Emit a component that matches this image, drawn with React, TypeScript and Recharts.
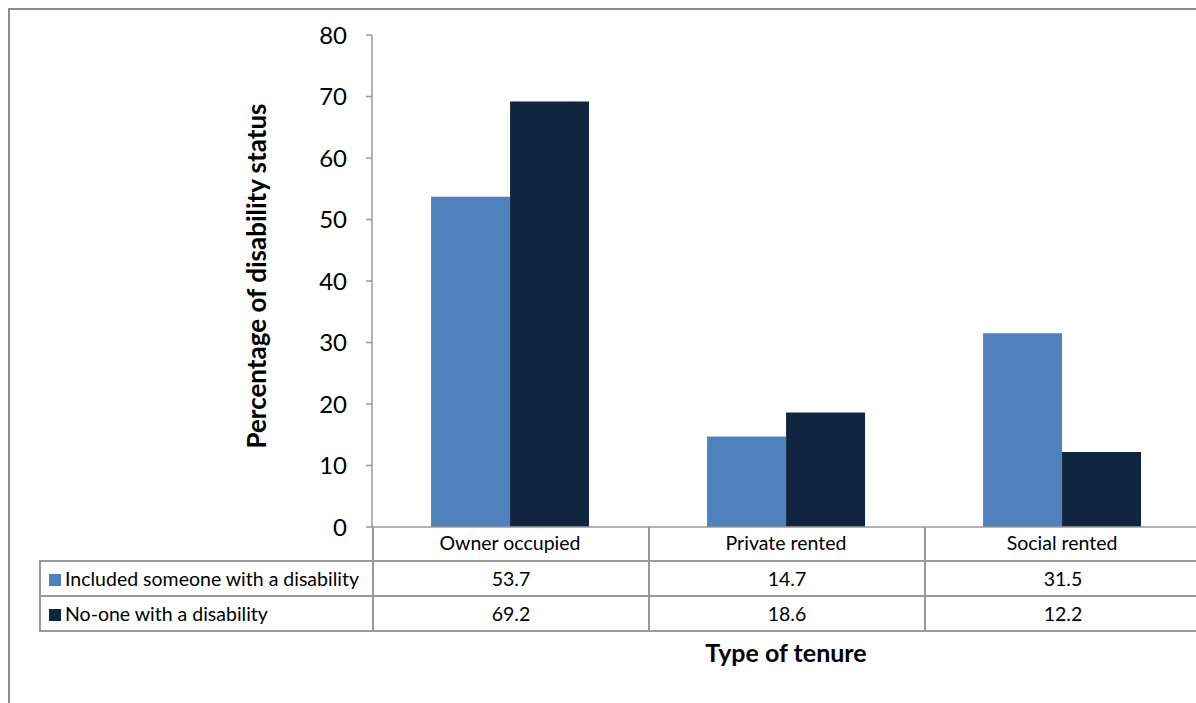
import React from 'react';
import { BarChart, Bar, XAxis, YAxis, Label } from 'recharts';

const tenures = ['Owner occupied', 'Private rented', 'Social rented'];
const withDisability = [53.7, 14.7, 31.5];
const noDisability = [69.2, 18.6, 12.2];
const yTicks = [0, 10, 20, 30, 40, 50, 60, 70, 80];

const seriesNames = ['Included someone with a disability', 'No-one with a disability'];
const seriesColors = ['#4F81BD', '#10253F'];

const data = tenures.map((t, i) => ({
  name: t,
  withDisability: withDisability[i],
  noDisability: noDisability[i],
}));

const font = 'Lato, "Open Sans", sans-serif';
const lineColor = '#999999';
const textSize = 19.5;

const YTitle = (props: any) => {
  const vb = props.viewBox;
  const x = vb.x - 56;
  const y = vb.y + vb.height / 2 - 5;
  return (
    <text
      x={x}
      y={y}
      transform={`rotate(-90, ${x}, ${y})`}
      textAnchor="middle"
      dominantBaseline="central"
      fontFamily={font}
      fontWeight="bold"
      fontSize={26}
      fill="#000"
    >
      Percentage of disability status
    </text>
  );
};

const cell = (extra: React.CSSProperties): React.CSSProperties => ({
  padding: 0,
  textAlign: 'center',
  fontSize: textSize,
  fontFamily: font,
  color: '#000',
  borderLeft: `2px solid ${lineColor}`,
  borderRight: `2px solid ${lineColor}`,
  borderTop: `2px solid ${lineColor}`,
  borderBottom: `2px solid ${lineColor}`,
  ...extra,
});

const App: React.FC = () => {
  const rows = [withDisability, noDisability];
  return (
    <div style={{ position: 'fixed', left: 0, top: 0, width: 1196, height: 703, overflow: 'hidden', background: '#fff' }}>
      <div
        style={{
          position: 'absolute',
          left: 8,
          top: 8,
          width: 1400,
          height: 900,
          border: '2px solid #8c8c8c',
        }}
      />
      <div style={{ position: 'absolute', left: 0, top: 0 }}>
        <BarChart
          width={1220}
          height={703}
          data={data}
          margin={{ top: 35, right: 20, bottom: 0, left: 312 }}
          barCategoryGap="21.4%"
          barGap={0}
        >
          <XAxis
            dataKey="name"
            height={176}
            tickLine={false}
            tickSize={0}
            tickMargin={9}
            stroke={lineColor}
            strokeWidth={1.5}
            tick={{ fill: '#000', fontSize: textSize, fontFamily: font }}
          />
          <YAxis
            width={60}
            domain={[0, 80]}
            ticks={yTicks}
            interval={0}
            tickSize={6}
            tickMargin={19}
            stroke={lineColor}
            strokeWidth={1.5}
            tick={{ fill: '#000', fontSize: 24, fontFamily: font }}
          >
            <Label content={<YTitle />} />
          </YAxis>
          <Bar dataKey="withDisability" name={seriesNames[0]} fill={seriesColors[0]} isAnimationActive={false} />
          <Bar dataKey="noDisability" name={seriesNames[1]} fill={seriesColors[1]} isAnimationActive={false} />
        </BarChart>
      </div>
      <table
        style={{
          position: 'absolute',
          left: 39,
          top: 527,
          borderCollapse: 'collapse',
          tableLayout: 'fixed',
          width: 333 + 276 * 3,
        }}
      >
        <colgroup>
          <col style={{ width: 333 }} />
          <col style={{ width: 276 }} />
          <col style={{ width: 276 }} />
          <col style={{ width: 276 }} />
        </colgroup>
        <tbody>
          <tr style={{ height: 34 }}>
            <td style={{ padding: 0, border: 'none', borderBottom: `2px solid ${lineColor}` }} />
            {tenures.map((t) => (
              <td key={t} style={cell({ borderTop: 'none' })} />
            ))}
          </tr>
          {rows.map((vals, r) => (
            <tr key={r} style={{ height: 35 }}>
              <td style={cell({ textAlign: 'left', paddingLeft: 8, whiteSpace: 'nowrap', lineHeight: '20px' })}>
                <span
                  style={{
                    display: 'inline-block',
                    width: 12,
                    height: 12,
                    background: seriesColors[r],
                    marginRight: 4,
                  }}
                />
                {seriesNames[r]}
              </td>
              {vals.map((v, i) => (
                <td key={i} style={cell({ lineHeight: '20px' })}>
                  {v.toFixed(1)}
                </td>
              ))}
            </tr>
          ))}
        </tbody>
      </table>
      <div
        style={{
          position: 'absolute',
          left: 372,
          width: 828,
          top: 637,
          textAlign: 'center',
          fontFamily: font,
          fontWeight: 'bold',
          fontSize: 25,
          color: '#000',
        }}
      >
        Type of tenure
      </div>
    </div>
  );
};

export default App;
